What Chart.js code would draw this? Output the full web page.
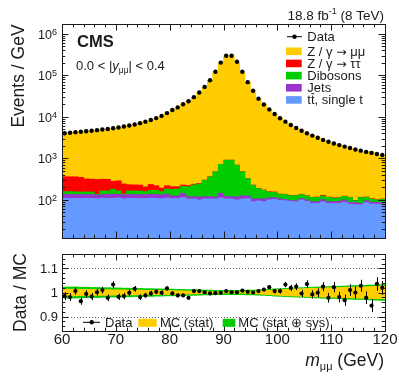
<!DOCTYPE html>
<html>
<head>
<meta charset="utf-8">
<title>Spectre de masse mu mu</title>
<script src="https://cdn.jsdelivr.net/npm/chart.js@4.4.1/dist/chart.umd.min.js"></script>
<style>
  html, body { margin: 0; padding: 0; background: #fff; }
  #plot { position: relative; width: 399px; height: 383px; }
  #plot canvas { position: absolute; left: 0; top: 0; }
</style>
</head>
<body>
<div id="plot">
  <canvas id="massChart" width="399" height="383"></canvas>
  <canvas id="ratioChart" width="399" height="383"></canvas>
</div>
<script>
// DONNEES (événements / GeV)
const massBins = [
  60.5, 61.5, 62.5, 63.5, 64.5, 65.5, 66.5, 67.5, 68.5, 69.5,
  70.5, 71.5, 72.5, 73.5, 74.5, 75.5, 76.5, 77.5, 78.5, 79.5,
  80.5, 81.5, 82.5, 83.5, 84.5, 85.5, 86.5, 87.5, 88.5, 89.5,
  90.5, 91.5, 92.5, 93.5, 94.5, 95.5, 96.5, 97.5, 98.5, 99.5,
  100.5, 101.5, 102.5, 103.5, 104.5, 105.5, 106.5, 107.5, 108.5, 109.5,
  110.5, 111.5, 112.5, 113.5, 114.5, 115.5, 116.5, 117.5, 118.5, 119.5
];
const dataEvents = [
  4050, 4160, 4280, 4400, 4520, 4650, 4810, 4970, 5140, 5340,
  5590, 5870, 6210, 6600, 7090, 7710, 8470, 9400, 10600, 12400,
  14750, 17000, 20300, 24000, 30000, 39000, 53000, 77000, 123000, 204000,
  300000, 300000, 215000, 123000, 69000, 43000, 27600, 20000, 15200, 11800,
  9300, 7700, 6400, 5400, 4650, 4050, 3550, 3150, 2800, 2520,
  2300, 2100, 1930, 1780, 1650, 1540, 1440, 1360, 1280, 1210
];
const zMuMu = [
  3749, 3878, 3893, 4212, 4226, 4412, 4493, 4604, 4941, 4888,
  5402, 5716, 5983, 6271, 6998, 7597, 8267, 9151, 10417, 11972,
  14600, 16997, 20318, 24316, 29581, 38516, 52645, 76946, 122891, 203480,
  297299, 298788, 214093, 121545, 68463, 42771, 27244, 19589, 14715, 11574,
  9106, 7317, 6152, 5144, 4532, 3786, 3463, 3035, 2604, 2459,
  2136, 2027, 1870, 1646, 1552, 1382, 1354, 1330, 1134, 1081
];
const zTauTau = [
  204, 204, 205, 196, 165, 162, 175, 152, 150, 100,
  125, 103, 68, 66, 64, 48, 66, 50, 35, 37,
  28, 25, 18, 14, 10, 8, 6, 4, 3, 3,
  2, 2, 2, 2, 3, 3, 3, 3, 4, 3,
  2, 2, 2, 2, 2, 2, 2, 2, 5, 2,
  4, 2, 2, 2, 2, 2, 2, 2, 2, 2
];
const dibosons = [
  22, 23, 21, 21, 20, 22, 7, 30, 29, 43,
  28, 7, 29, 30, 31, 25, 34, 35, 26, 46,
  56, 59, 66, 90, 110, 125, 176, 239, 358, 576,
  788, 790, 572, 351, 204, 120, 81, 66, 42, 39,
  31, 33, 29, 31, 27, 25, 23, 25, 23, 25,
  19, 19, 22, 26, 10, 31, 20, 18, 12, 18
];
const jets = [
  27, 28, 26, 27, 26, 25, 22, 24, 27, 28,
  25, 26, 26, 26, 26, 26, 26, 27, 26, 27,
  17, 17, 31, 14, 14, 18, 14, 14, 12, 33,
  16, 14, 18, 20, 16, 15, 12, 14, 12, 10,
  8, 6, 5, 6, 8, 7, 8, 8, 12, 8,
  9, 10, 12, 8, 9, 6, 10, 8, 9, 6
];
const topQuark = [
  110, 108, 109, 108, 110, 109, 108, 111, 109, 110,
  112, 107, 110, 109, 108, 108, 111, 109, 107, 111,
  108, 108, 114, 106, 106, 100, 106, 106, 106, 112,
  106, 106, 100, 106, 108, 91, 95, 91, 100, 104,
  98, 96, 93, 90, 100, 93, 83, 83, 90, 83,
  82, 83, 88, 80, 77, 77, 86, 80, 79, 80
];
// incertitudes relatives (panneau du bas)
const dataErr = [
  0.016, 0.016, 0.015, 0.015, 0.015, 0.015, 0.014, 0.014, 0.014, 0.014,
  0.013, 0.013, 0.013, 0.012, 0.012, 0.011, 0.011, 0.010, 0.010, 0.009,
  0.008, 0.008, 0.007, 0.006, 0.006, 0.005, 0.004, 0.004, 0.003, 0.002,
  0.002, 0.002, 0.002, 0.003, 0.004, 0.005, 0.006, 0.007, 0.008, 0.009,
  0.010, 0.011, 0.013, 0.014, 0.015, 0.016, 0.017, 0.018, 0.019, 0.020,
  0.021, 0.022, 0.023, 0.024, 0.025, 0.025, 0.026, 0.027, 0.028, 0.029
];
const mcStatErr = [
  0.014, 0.014, 0.014, 0.013, 0.013, 0.013, 0.012, 0.012, 0.012, 0.011,
  0.011, 0.011, 0.010, 0.010, 0.010, 0.009, 0.009, 0.009, 0.008, 0.008,
  0.008, 0.007, 0.007, 0.006, 0.006, 0.005, 0.004, 0.004, 0.003, 0.003,
  0.002, 0.002, 0.003, 0.003, 0.004, 0.005, 0.006, 0.008, 0.009, 0.011,
  0.012, 0.013, 0.014, 0.015, 0.016, 0.017, 0.018, 0.018, 0.019, 0.020,
  0.020, 0.021, 0.022, 0.022, 0.023, 0.024, 0.024, 0.025, 0.026, 0.026
];
const mcTotErr = [
  0.023, 0.023, 0.023, 0.022, 0.022, 0.021, 0.021, 0.020, 0.020, 0.019,
  0.019, 0.018, 0.018, 0.017, 0.017, 0.016, 0.016, 0.015, 0.015, 0.014,
  0.014, 0.013, 0.013, 0.012, 0.012, 0.011, 0.010, 0.010, 0.009, 0.009,
  0.009, 0.009, 0.009, 0.009, 0.010, 0.010, 0.011, 0.012, 0.013, 0.015,
  0.016, 0.017, 0.018, 0.019, 0.020, 0.021, 0.022, 0.023, 0.024, 0.025,
  0.025, 0.026, 0.027, 0.028, 0.029, 0.029, 0.030, 0.031, 0.032, 0.033
];

const xTicks = [60, 70, 80, 90, 100, 110, 120];
const logTicks = [2, 3, 4, 5, 6];
const ratioTicks = [0.9, 1, 1.1];

const COLORS = { zmm: '#ffcc00', ztt: '#ff0000', vv: '#00cc00', jets: '#9933cc', top: '#6699ff' };
const FONT = '"Liberation Sans", Arial, sans-serif';
const SYMBOL_FONT = '"DejaVu Sans", sans-serif';
const INK = '#1a1a1a';

const mcTotal = massBins.map((m, i) => zMuMu[i] + zTauTau[i] + dibosons[i] + jets[i] + topQuark[i]);
const ratio = dataEvents.map((d, i) => d / mcTotal[i]);

const xMinor = [];
for (let v = 62; v < 120; v += 2) if (v % 10) xMinor.push(v);

function pts(values) {
    return massBins.map((m, i) => ({ x: m, y: values[i] }));
}

function setFont(ctx, size, style, family) {
    ctx.font = (style ? style + ' ' : '') + size + 'px ' + (family || FONT);
}

// texte composé (exposants / indices)
function drawPieces(ctx, pieces, x, y, align) {
    const w = pieces.map(p => { setFont(ctx, p.size, p.style, p.fam); return ctx.measureText(p.t).width; });
    const total = w.reduce((s, v) => s + v, 0);
    let cx = align === 'right' ? x - total : align === 'center' ? x - total / 2 : x;
    ctx.textAlign = 'left';
    ctx.textBaseline = 'alphabetic';
    pieces.forEach((p, i) => {
        setFont(ctx, p.size, p.style, p.fam);
        ctx.fillText(p.t, cx, y + (p.dy || 0));
        cx += w[i];
    });
}

function drawVTitle(ctx, text, x, y, size) {
    ctx.save();
    ctx.translate(x, y);
    ctx.rotate(-Math.PI / 2);
    setFont(ctx, size);
    ctx.textAlign = 'center';
    ctx.textBaseline = 'alphabetic';
    ctx.fillText(text, 0, 0);
    ctx.restore();
}

// cadre + graduations vers l'intérieur, style ROOT
function drawFrame(chart, yMaj, yMin) {
    const { ctx, chartArea: a, scales: { x, y } } = chart;
    ctx.save();
    ctx.strokeStyle = INK;
    ctx.lineWidth = 1;
    ctx.beginPath();
    const vx = (v, len) => {
        const p = Math.round(x.getPixelForValue(v)) + 0.5;
        ctx.moveTo(p, a.bottom); ctx.lineTo(p, a.bottom - len);
        ctx.moveTo(p, a.top); ctx.lineTo(p, a.top + len);
    };
    const hy = (v, len) => {
        const p = Math.round(y.getPixelForValue(v)) + 0.5;
        ctx.moveTo(a.left, p); ctx.lineTo(a.left + len, p);
        ctx.moveTo(a.right, p); ctx.lineTo(a.right - len, p);
    };
    xTicks.forEach(v => vx(v, 6.5));
    xMinor.forEach(v => vx(v, 3.3));
    yMaj.forEach(v => hy(v, 6.5));
    yMin.forEach(v => hy(v, 3.3));
    ctx.stroke();
    ctx.strokeRect(Math.round(a.left) + 0.5, Math.round(a.top) + 0.5,
        Math.round(a.right - a.left), Math.round(a.bottom - a.top));
    ctx.restore();
}

const mainDecor = {
    id: 'mainDecor',
    afterDraw(chart) {
        const { ctx, scales: { y } } = chart;
        const yMaj = logTicks.map(e => Math.pow(10, e));
        const yMin = [];
        for (let e = 1; e <= 6; e++) {
            for (let j = 2; j <= 9; j++) {
                const v = j * Math.pow(10, e);
                if (v > y.min && v < y.max) yMin.push(v);
            }
        }
        drawFrame(chart, yMaj, yMin);

        ctx.save();
        ctx.fillStyle = INK;
        logTicks.forEach(e => {
            const py = y.getPixelForValue(Math.pow(10, e));
            drawPieces(ctx, [{ t: '10', size: 12.5 }, { t: String(e), size: 9, dy: -4 }], 57, py + 5, 'right');
        });

        drawVTitle(ctx, 'Events / GeV', 24, 76, 17.5);

        setFont(ctx, 16.5, 'bold');
        ctx.textAlign = 'left';
        ctx.fillText('CMS', 77, 47);

        drawPieces(ctx, [
            { t: '0.0 < |', size: 13 },
            { t: 'y', size: 13, style: 'italic' },
            { t: 'μμ', size: 8.5, dy: 3 },
            { t: '| < 0.4', size: 13 }
        ], 76, 70, 'left');

        drawPieces(ctx, [
            { t: '18.8 fb', size: 13.5 },
            { t: '-1', size: 9, dy: -5.5 },
            { t: ' (8 TeV)', size: 13.5 }
        ], 384, 19.5, 'right');

        // légende
        const tx = 307.3;
        ctx.strokeStyle = '#000';
        ctx.lineWidth = 1;
        ctx.beginPath();
        ctx.moveTo(287, 36.7); ctx.lineTo(302, 36.7);
        ctx.stroke();
        ctx.fillStyle = '#000';
        ctx.beginPath();
        ctx.arc(294.5, 36.7, 2.2, 0, Math.PI * 2);
        ctx.fill();
        ctx.fillStyle = INK;
        setFont(ctx, 13);
        ctx.fillText('Data', tx, 41);

        const arrow = { t: '→', size: 12.5, fam: SYMBOL_FONT };
        const rows = [
            { pieces: [{ t: 'Z / γ ', size: 13 }, arrow, { t: ' μμ', size: 13 }], color: COLORS.zmm },
            { pieces: [{ t: 'Z / γ ', size: 13 }, arrow, { t: ' ττ', size: 13 }], color: COLORS.ztt },
            { pieces: [{ t: 'Dibosons', size: 13 }], color: COLORS.vv },
            { pieces: [{ t: 'Jets', size: 13 }], color: COLORS.jets },
            { pieces: [{ t: 'tt, single t', size: 13 }], color: COLORS.top }
        ];
        rows.forEach((r, k) => {
            const cy = 51.3 + 12.15 * k;
            ctx.fillStyle = r.color;
            ctx.fillRect(286, cy - 3.8, 15.7, 7.6);
            ctx.fillStyle = INK;
            drawPieces(ctx, r.pieces, tx, cy + 4.3, 'left');
            if (k === 4) {
                setFont(ctx, 13);
                const w1 = ctx.measureText('t').width;
                const w2 = ctx.measureText('tt').width;
                ctx.strokeStyle = INK;
                ctx.beginPath();
                ctx.moveTo(tx + w1 + 0.3, cy + 4.3 - 10.5);
                ctx.lineTo(tx + w2 - 0.3, cy + 4.3 - 10.5);
                ctx.stroke();
            }
        });
        ctx.restore();
    }
};

const ratioDecor = {
    id: 'ratioDecor',
    beforeDatasetsDraw(chart) {
        const { ctx, chartArea: a, scales: { y } } = chart;
        ctx.save();
        ctx.strokeStyle = '#666';
        ctx.lineWidth = 1;
        ctx.setLineDash([1, 2]);
        [0.9, 1.1].forEach(v => {
            const p = Math.round(y.getPixelForValue(v)) + 0.5;
            ctx.beginPath();
            ctx.moveTo(a.left, p); ctx.lineTo(a.right, p);
            ctx.stroke();
        });
        ctx.restore();
    },
    afterDatasetsDraw(chart) {
        // barres d'erreur des données
        const { ctx, scales: { x, y } } = chart;
        ctx.save();
        ctx.strokeStyle = '#000';
        ctx.lineWidth = 1;
        ctx.beginPath();
        massBins.forEach((m, i) => {
            const px = Math.round(x.getPixelForValue(m)) + 0.5;
            ctx.moveTo(px, y.getPixelForValue(ratio[i] - dataErr[i]));
            ctx.lineTo(px, y.getPixelForValue(ratio[i] + dataErr[i]));
        });
        ctx.stroke();
        ctx.restore();
    },
    afterDraw(chart) {
        const { ctx, scales: { x, y } } = chart;
        const yMin = [];
        for (let k = 0; k <= 16; k++) {
            const v = Math.round((0.84 + k * 0.02) * 100) / 100;
            if (!ratioTicks.some(t => Math.abs(t - v) < 1e-6)) yMin.push(v);
        }
        drawFrame(chart, ratioTicks, yMin);

        ctx.save();
        ctx.fillStyle = INK;
        setFont(ctx, 15);
        ctx.textAlign = 'center';
        xTicks.forEach(v => ctx.fillText(String(v), x.getPixelForValue(v), 344));
        setFont(ctx, 13);
        ctx.textAlign = 'right';
        ratioTicks.forEach(v => ctx.fillText(String(v), 58, y.getPixelForValue(v) + 4.7));

        drawVTitle(ctx, 'Data / MC', 26, 292.5, 17.5);

        drawPieces(ctx, [
            { t: 'm', size: 17.5, style: 'italic' },
            { t: 'μμ', size: 11, dy: 4 },
            { t: ' (GeV)', size: 17.5 }
        ], 384, 366, 'right');

        // légende du bas
        ctx.strokeStyle = '#000';
        ctx.beginPath();
        ctx.moveTo(83, 322.3); ctx.lineTo(100, 322.3);
        ctx.stroke();
        ctx.fillStyle = '#000';
        ctx.beginPath();
        ctx.arc(91.7, 322.3, 2.2, 0, Math.PI * 2);
        ctx.fill();
        ctx.fillStyle = COLORS.zmm;
        ctx.fillRect(138.3, 318.8, 18.4, 8);
        ctx.fillStyle = COLORS.vv;
        ctx.fillRect(222.7, 318.8, 12.6, 8);
        ctx.fillStyle = INK;
        drawPieces(ctx, [{ t: 'Data', size: 13 }], 105, 326.8, 'left');
        drawPieces(ctx, [{ t: 'MC (stat)', size: 13 }], 160, 326.8, 'left');
        drawPieces(ctx, [{ t: 'MC (stat ⊕ sys)', size: 13 }], 238.3, 326.8, 'left');
        ctx.restore();
    }
};

function stackSet(label, values, color) {
    return {
        type: 'bar', label, data: pts(values),
        backgroundColor: color, borderWidth: 0,
        barPercentage: 1, categoryPercentage: 1,
        stack: 'mc', order: 1
    };
}

const baseOptions = {
    responsive: false,
    animation: false,
    events: [],
    plugins: { legend: { display: false }, tooltip: { enabled: false } }
};

// PANNEAU PRINCIPAL : empilement MC + données
new Chart(document.getElementById('massChart').getContext('2d'), {
    type: 'bar',
    data: {
        datasets: [
            stackSet('tt, single t', topQuark, COLORS.top),
            stackSet('Jets', jets, COLORS.jets),
            stackSet('Dibosons', dibosons, COLORS.vv),
            stackSet('Z/γ → ττ', zTauTau, COLORS.ztt),
            stackSet('Z/γ → μμ', zMuMu, COLORS.zmm),
            {
                type: 'line', label: 'Data', data: pts(dataEvents),
                showLine: false, pointRadius: 2.2, pointBorderWidth: 0,
                pointBackgroundColor: '#000', stack: 'data', order: 0
            }
        ]
    },
    options: {
        ...baseOptions,
        layout: { padding: { left: 62, top: 24, right: 14, bottom: 145 } },
        scales: {
            x: { type: 'linear', min: 60, max: 120, offset: false, display: false },
            y: { type: 'logarithmic', min: 12.1, max: 1.74e6, display: false }
        }
    },
    plugins: [mainDecor]
});

// PANNEAU DU RAPPORT Data / MC
new Chart(document.getElementById('ratioChart').getContext('2d'), {
    type: 'bar',
    data: {
        datasets: [
            {
                type: 'bar', label: 'MC (stat ⊕ sys)',
                data: massBins.map((m, i) => ({ x: m, y: [1 - mcTotErr[i], 1 + mcTotErr[i]] })),
                backgroundColor: COLORS.vv, borderWidth: 0,
                barPercentage: 1, categoryPercentage: 1, grouped: false, order: 3
            },
            {
                type: 'bar', label: 'MC (stat)',
                data: massBins.map((m, i) => ({ x: m, y: [1 - mcStatErr[i], 1 + mcStatErr[i]] })),
                backgroundColor: COLORS.zmm, borderWidth: 0,
                barPercentage: 1, categoryPercentage: 1, grouped: false, order: 2
            },
            {
                type: 'line', label: 'Data', data: pts(ratio),
                showLine: false, pointRadius: 2.1, pointBorderWidth: 0,
                pointBackgroundColor: '#000', order: 1
            }
        ]
    },
    options: {
        ...baseOptions,
        layout: { padding: { left: 62, top: 254, right: 14, bottom: 52 } },
        scales: {
            x: { type: 'linear', min: 60, max: 120, offset: false, display: false },
            y: { type: 'linear', min: 0.84, max: 1.16, display: false }
        }
    },
    plugins: [ratioDecor]
});
</script>
</body>
</html>
